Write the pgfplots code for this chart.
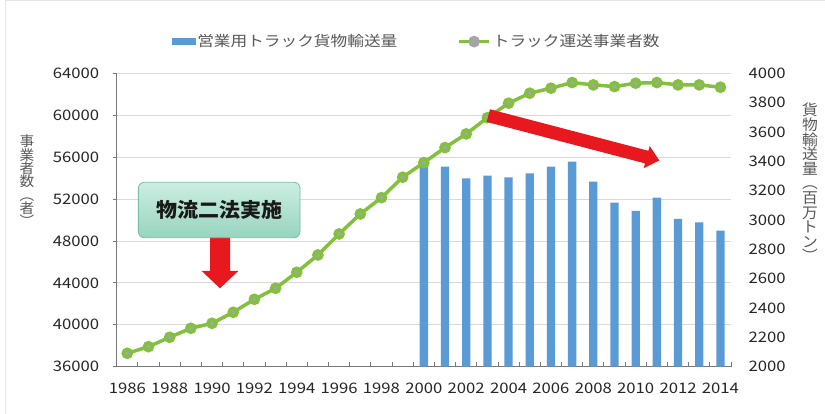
\documentclass[border=0pt]{standalone}
\usepackage{fontspec}
\usepackage{pgfplots}
\pgfplotsset{compat=1.18}
\setmainfont{Noto Sans CJK JP}[FakeStretch=1.15]
\newfontfamily\jp{Noto Sans CJK JP}[FakeStretch=1.15]
\newfontfamily\jpv{Noto Sans CJK JP}[FakeStretch=1.05]
\newfontfamily\jpb{Noto Sans CJK JP}[FakeStretch=1.05]
\definecolor{barblue}{RGB}{91,155,213}
\definecolor{linegreen}{RGB}{130,192,62}
\definecolor{markgray}{RGB}{165,165,165}
\definecolor{arrowred}{RGB}{232,25,30}
\definecolor{gridgray}{RGB}{217,217,217}
\definecolor{txtgray}{RGB}{89,89,89}
\definecolor{axgray}{RGB}{120,120,120}
\definecolor{boxtop}{RGB}{205,238,226}
\definecolor{boxbot}{RGB}{150,212,190}
\definecolor{boxborder}{RGB}{120,190,165}
\pgfplotsset{
  base/.style={at={(116.7pt,47.3pt)}, anchor=south west, scale only axis,
    width=614.3pt, height=293.4pt, xmin=1985.5, xmax=2014.5,
    /pgf/number format/1000 sep={}, /pgf/number format/assume math mode=true,
    ticklabel style={font=\jp\fontsize{14.5}{16}\selectfont, text=black!85}},
}
\begin{document}
\begin{tikzpicture}
\useasboundingbox (0,0) rectangle (825pt,414pt);
\fill[white] (0,0) rectangle (825pt,414pt);
\draw[black!10] (5.5pt,0pt) -- (5.5pt,413.5pt) -- (825pt,413.5pt);

% frame, grid, left scale
\begin{axis}[base, ymin=36000, ymax=64000, ytick={36000,40000,...,64000},
  scaled y ticks=false, ymajorgrids, grid style={gridgray, line width=0.9pt},
  axis x line*=bottom, axis y line*=left,
  axis line style={axgray, line width=0.8pt},
  xtick={1986,1988,...,2014}, minor xtick={1985.5,1986.5,...,2014.5},
  major x tick style={draw=none}, minor x tick style={axgray, line width=0.8pt},
  minor tick length=5pt, xtick align=inside,
  ytick align=outside, major y tick style={axgray, line width=0.8pt}, major tick length=4pt,
  xticklabel style={yshift=-13pt},
  yticklabel style={xshift=-10pt}]
\addplot[draw=none] coordinates {(1986,40000)};
\end{axis}

% bars, right scale
\begin{axis}[base, ymin=2000, ymax=4000, ytick={2000,2200,...,4000},
  axis x line=none, axis y line*=right, y axis line style={draw=none},
  major tick length=0pt, ytick style={draw=none},
  yticklabel style={xshift=14pt}]
\addplot[ybar, bar width=8.3pt, bar shift=0pt, fill=barblue, draw=none] coordinates {
(2000,3390) (2001,3363) (2002,3284) (2003,3302) (2004,3291) (2005,3318)
(2006,3363) (2007,3398) (2008,3261) (2009,3118) (2010,3063) (2011,3152)
(2012,3007) (2013,2984) (2014,2927)};
\end{axis}

% line, left scale
\begin{axis}[base, ymin=36000, ymax=64000, hide axis,
  legend columns=2,
  legend style={at={(0.0895,1.108)}, anchor=west, draw=none, fill=none,
    inner sep=0pt, font=\jp\fontsize{14.5}{16}\selectfont, text=txtgray,
    /tikz/every even column/.append style={column sep=58pt}}]
\addlegendimage{legend image code/.code={\fill[barblue] (0pt,-3pt) rectangle (23pt,3pt);}}
\addlegendentry{営業用トラック貨物輸送量}
\addplot[linegreen, line width=3.5pt, mark=*, mark size=4pt,
  mark options={fill=markgray, draw=none},
  legend image code/.code={\draw[linegreen, line width=3.5pt] (0pt,0pt) -- (30pt,0pt);
    \fill[markgray] (15pt,0pt) circle (4pt);}] coordinates {
(1986,37280) (1987,37910) (1988,38807) (1989,39666) (1990,40143) (1991,41193)
(1992,42434) (1993,43485) (1994,45012) (1995,46664) (1996,48669) (1997,50578)
(1998,52134) (1999,54082) (2000,55476) (2001,56909) (2002,58217) (2003,59760)
(2004,61146) (2005,62101) (2006,62578) (2007,63115) (2008,62894) (2009,62732)
(2010,63056) (2011,63115) (2012,62894) (2013,62894) (2014,62670)};
\addlegendentry{トラック運送事業者数}
\end{axis}

% annotations
\fill[arrowred] (210pt,178pt) -- (230pt,178pt) -- (230pt,143pt) -- (238.3pt,143pt)
  -- (220pt,125.7pt) -- (201.7pt,143pt) -- (210pt,143pt) -- cycle;
\node[draw=boxborder, line width=0.8pt, top color=boxtop, bottom color=boxbot,
  rounded corners=6pt, minimum width=161.7pt, minimum height=55.4pt, inner sep=0pt,
  font=\jpb\bfseries\fontsize{20}{22}\selectfont, text=black!90]
  at (219.2pt,204pt) {物流二法実施};
\fill[arrowred] (490.0pt,304.7pt) -- (648.4pt,263.2pt) -- (649.7pt,268.0pt)
  -- (659.3pt,253.5pt) -- (643.7pt,245.8pt) -- (645.0pt,250.6pt)
  -- (486.6pt,292.1pt) -- cycle;

% axis titles (vertical)
\node[font=\jpv\fontsize{14}{13.3}\selectfont, text=txtgray, align=center, inner sep=0pt]
  at (27pt,233pt) {事\\業\\者\\数\\︵\\者\\︶};
\node[font=\jpv\fontsize{15}{14.6}\selectfont, text=txtgray, align=center, inner sep=0pt]
  at (810pt,231.5pt) {貨\\物\\輸\\送\\量\\︵\\百\\万\\ト\\ン\\︶};
\end{tikzpicture}
\end{document}
